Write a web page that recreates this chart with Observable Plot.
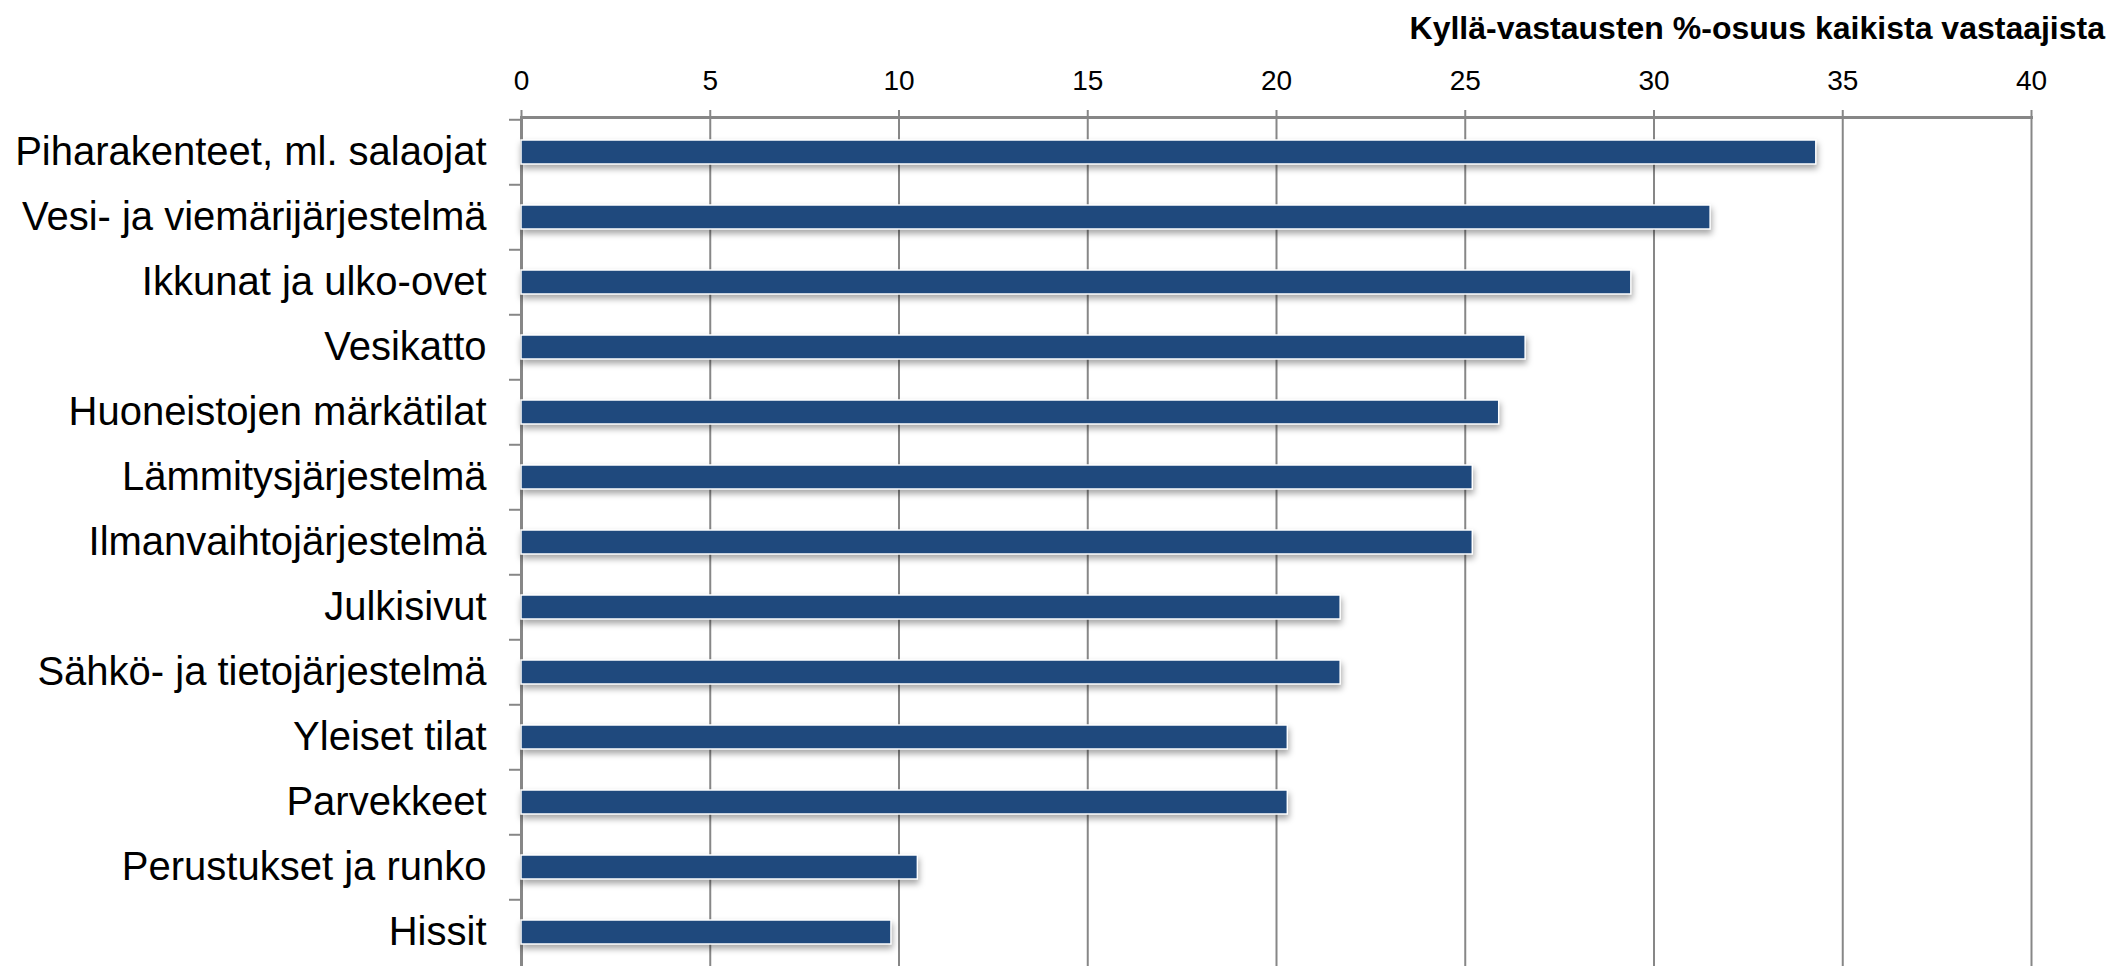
<!DOCTYPE html>
<html>
<head>
<meta charset="utf-8">
<script src="https://cdn.jsdelivr.net/npm/d3@7"></script>
<script src="https://cdn.jsdelivr.net/npm/@observablehq/plot@0.6"></script>
<style>
  html, body { margin: 0; padding: 0; background: #fff; }
  body { width: 2116px; height: 966px; overflow: hidden; font-family: "Liberation Sans", Arial, sans-serif; }
  #title { height: 50px; padding-top: 6px; line-height: 44px; text-align: right; padding-right: 11px; font-weight: bold; font-size: 32px; color: #000; box-sizing: border-box; }
  svg { display: block; }
</style>
</head>
<body>
<div id="title"></div>
<div id="chart"></div>
<script>
const titleText = "Kyllä-vastausten %-osuus kaikista vastaajista";
const categories = [
  "Piharakenteet, ml. salaojat",
  "Vesi- ja viemärijärjestelmä",
  "Ikkunat ja ulko-ovet",
  "Vesikatto",
  "Huoneistojen märkätilat",
  "Lämmitysjärjestelmä",
  "Ilmanvaihtojärjestelmä",
  "Julkisivut",
  "Sähkö- ja tietojärjestelmä",
  "Yleiset tilat",
  "Parvekkeet",
  "Perustukset ja runko",
  "Hissit"
];
const values = [34.3, 31.5, 29.4, 26.6, 25.9, 25.2, 25.2, 21.7, 21.7, 20.3, 20.3, 10.5, 9.8];
const xTicks = [0, 5, 10, 15, 20, 25, 30, 35, 40];

document.getElementById("title").textContent = titleText;
const data = categories.map((c, i) => ({name: c, value: values[i]}));

const W = 2116, H = 916;
const mTop = 67, mBottom = -2, mLeft = 521, mRight = 85;
const step = (H - mTop - mBottom) / categories.length;
const gray = "#878787";

const chart = Plot.plot({
  width: W,
  height: H,
  marginTop: mTop,
  marginBottom: mBottom,
  marginLeft: mLeft,
  marginRight: mRight,
  style: {fontFamily: "'Liberation Sans', Arial, sans-serif", color: "#000", background: "#fff"},
  x: {domain: [0, 40], ticks: xTicks, axis: null},
  y: {domain: categories, paddingInner: 0.625, paddingOuter: 0.3125, axis: null},
  marks: [
    Plot.gridX(xTicks, {stroke: gray, strokeOpacity: 1, strokeWidth: 2}),
    Plot.axisX(xTicks, {anchor: "top", tickSize: 8, tickPadding: 20, fontSize: 28, stroke: gray, strokeWidth: 2, strokeOpacity: 1, fill: "#000", label: null}),
    Plot.frame({anchor: "top", stroke: gray, strokeWidth: 3}),
    Plot.ruleX([0], {stroke: gray, strokeWidth: 3}),
    Plot.axisY({tickSize: 12, text: null, dy: -step / 2, stroke: gray, strokeWidth: 2, strokeOpacity: 1, label: null}),
    Plot.axisY({tickSize: 0, tickPadding: 35, fontSize: 40, fill: "#000", label: null}),
    Plot.barX(data, {x: "value", y: "name", fill: "#1F497D", stroke: "#ffffff", strokeWidth: 1.5, ariaLabel: "bars"})
  ]
});
chart.querySelectorAll("g[aria-label='bars'], g[aria-label='bar']").forEach(g => {
  g.style.filter = "drop-shadow(1px 4px 3px rgba(0,0,0,0.35))";
});
document.getElementById("chart").appendChild(chart);
</script>
</body>
</html>
